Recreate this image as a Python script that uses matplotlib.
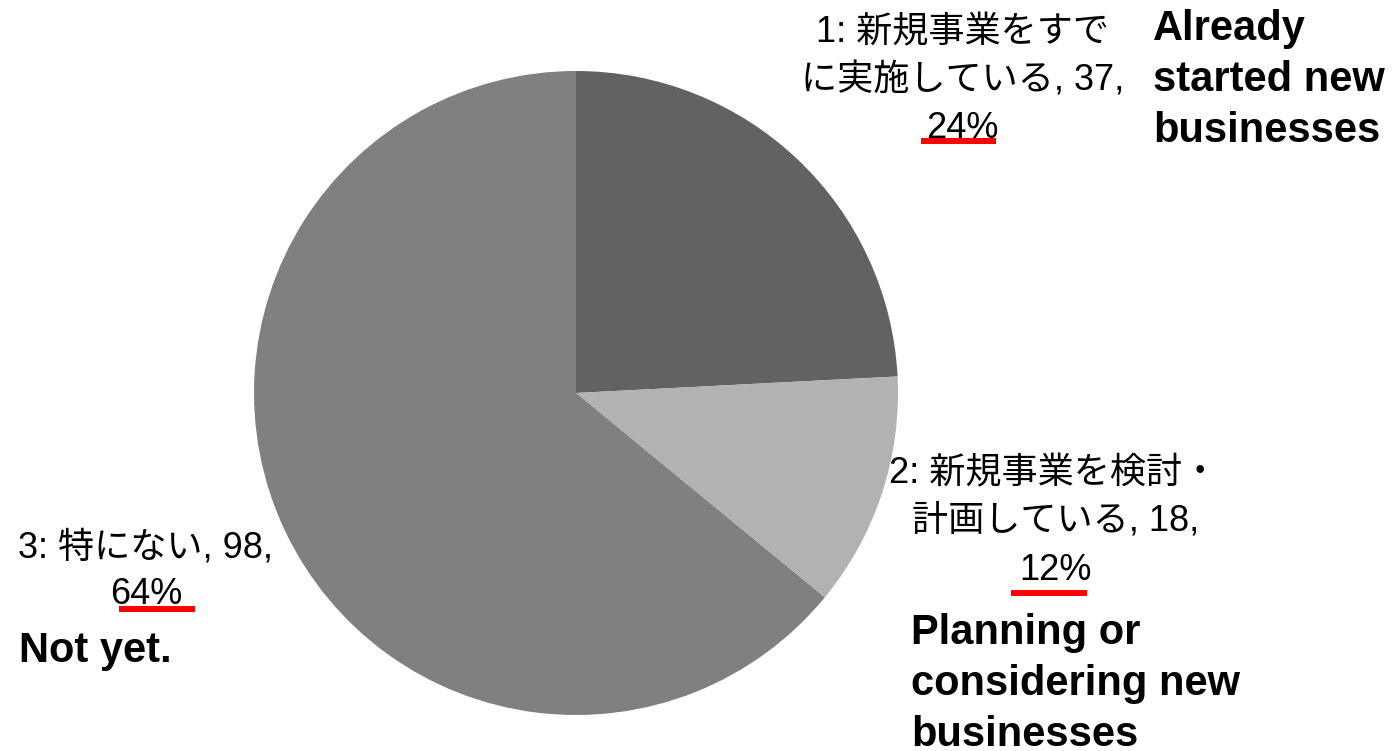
import matplotlib
matplotlib.use("Agg")
import matplotlib.pyplot as plt
from matplotlib.lines import Line2D

# ---- data ----
categories_jp = ["新規事業をすでに実施している", "新規事業を検討・計画している", "特にない"]
values = [37, 18, 98]
english = ["Already\nstarted new\nbusinesses", "Planning or\nconsidering new\nbusinesses", "Not yet."]
colors = ["#626262", "#b2b2b2", "#808080"]

W, H = 1396, 751
fig = plt.figure(figsize=(W / 100, H / 100), dpi=100)
fig.patch.set_facecolor("white")

cx, cy, r = 576, 393, 322
ax = fig.add_axes([(cx - r) / W, (H - cy - r) / H, 2 * r / W, 2 * r / H])
ax.pie(values, colors=colors, startangle=90, counterclock=False, radius=1,
       wedgeprops=dict(linewidth=0))
ax.set_xlim(-1, 1)
ax.set_ylim(-1, 1)
ax.set_aspect("equal")
ax.axis("off")

total = sum(values)
pcts = [round(v / total * 100) for v in values]

from matplotlib import font_manager
_names = {f.name for f in font_manager.fontManager.ttflist}
latin = "Liberation Sans Narrow" if "Liberation Sans Narrow" in _names else "Liberation Sans"
jp_font = [latin, "Noto Sans CJK JP"]
en_font = ["Liberation Sans"]

def fx(x):
    return x / W

def fy(y):
    return 1 - y / H

def line_text(x, y, s, **kw):
    fig.text(fx(x), fy(y), s, ha="center", va="center", family=jp_font,
             fontsize=26, color="black", **kw)

def underline(x0, x1, y):
    fig.add_artist(Line2D([fx(x0), fx(x1)], [fy(y), fy(y)], transform=fig.transFigure,
                          color="#ff0000", linewidth=4.3, solid_capstyle="butt"))

# label 1
line_text(963, 33, f"1: {categories_jp[0][:7]}")
line_text(963, 81, f"{categories_jp[0][7:]}, {values[0]},")
line_text(962, 128, f"{pcts[0]}%")
underline(921, 996, 141)
fig.text(fx(1153), fy(80), english[0], ha="left", va="center", family=en_font,
         fontsize=30, fontweight="bold", linespacing=1.36)

# label 2
line_text(1054, 474, f"2: {categories_jp[1][:8]}")
line_text(1056, 521, f"{categories_jp[1][8:]}, {values[1]},")
line_text(1055, 570, f"{pcts[1]}%")
underline(1011, 1087, 593)
fig.text(fx(911), fy(684), english[1], ha="left", va="center", family=en_font,
         fontsize=30, fontweight="bold", linespacing=1.36)

# label 3
line_text(146, 548, f"3: {categories_jp[2]}, {values[2]},")
line_text(146, 594, f"{pcts[2]}%")
underline(119, 195, 609)
fig.text(fx(19), fy(651), english[2], ha="left", va="center", family=en_font,
         fontsize=30, fontweight="bold")

fig.savefig("out.png", dpi=100)
